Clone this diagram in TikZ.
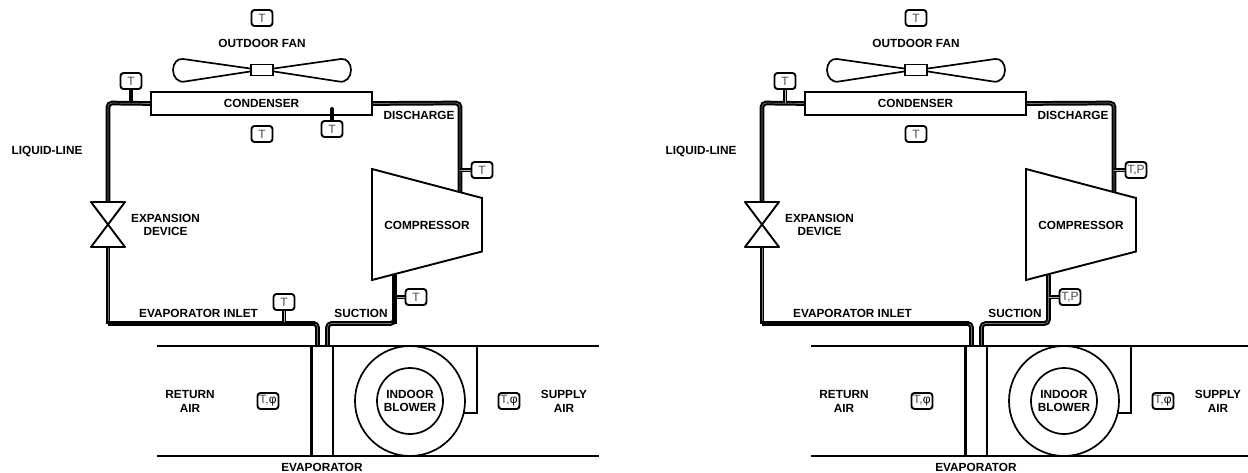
\documentclass[tikz,border=0pt]{standalone}
\usepackage{fontspec}
\usetikzlibrary{calc}
\setmainfont{Liberation Sans}
\newcommand{\acunit}[3]{%
 \begin{scope}[shift={(#1,0)},name prefix=#2-]
  \coordinate (nw) at (108,103);
  \coordinate (vt) at (108,202);
  \coordinate (vb) at (108,247);
  \coordinate (vl) at (91,202);
  \coordinate (vr) at (125,202);
  \coordinate (bl) at (91,247);
  \coordinate (br) at (125,247);
  \coordinate (sw) at (108,323.5);
  \coordinate (ie) at (317.5,323.5);
  \coordinate (id) at (317.5,346);
  \coordinate (sd) at (327.5,346);
  \coordinate (sc) at (327.5,323.5);
  \coordinate (se) at (394.5,323.5);
  \coordinate (cb) at (394.5,275);
  \coordinate (ne) at (460,103);
  \coordinate (ct) at (460,192);
  \coordinate (c1) at (372,169);
  \coordinate (c2) at (482,198);
  \coordinate (c3) at (482,251.5);
  \coordinate (c4) at (372,280);
  \node[minimum width=221pt,minimum height=23pt,inner sep=0pt] (cond) at (261.5,103.5) {};
  \draw[pipe] (cond.west) -- (nw) -- (vt);
  \draw[pipe] (vb) -- (sw);
  \draw[pipe] ($(ie)+(-4,0)$) -- (ie) -- (id);
  \draw[solidpipe] (sw) -- ($(ie)+(-3,0)$);
  \draw[pipe] (sd) -- (sc) -- (se) -- (cb);
  \draw[pipe] (cond.east) -- (ne) -- (ct);
  \draw[shape line,line join=round] (vl) -- (vr) -- (bl) -- (br) -- cycle;
  \node[shape line,fill=white,minimum width=221pt,minimum height=23pt,inner sep=0pt,lbl] at (261.5,103.5) {CONDENSER};
  \draw[shape line,fill=white] (c1) -- (c2) -- (c3) -- (c4) -- cycle;
  \node[lbl] (complbl) at (427,225) {COMPRESSOR};
  \node[shape line,fill=white,minimum width=22pt,minimum height=11pt,inner sep=0pt] (hub) at (262,70) {};
  \draw[line width=1.7pt,black] ($(hub.east)+(0,-1.5)$) -- (341,59) .. controls (347,58) and (351,64) .. (351,70) .. controls (351,77) and (346,83) .. (339,81.5) -- ($(hub.east)+(0,1.5)$);
  \draw[line width=1.7pt,black] ($(hub.west)+(0,-1.5)$) -- (183,59) .. controls (177,58) and (173,64) .. (173,70) .. controls (173,77) and (178,83) .. (185,81.5) -- ($(hub.west)+(0,1.5)$);
  \coordinate (dtl) at (157,346);
  \coordinate (dtr) at (599,346);
  \coordinate (dbl) at (157,456);
  \coordinate (dbr) at (599,456);
  \draw[duct] (dtl) -- (dtr);
  \draw[duct] (dbl) -- (dbr);
  \draw[draw=black,line width=2.4pt] (311.5,346) -- (311.5,456);
  \draw[duct] (333,346) -- (333,456);
  \node[duct,circle,minimum size=110pt,inner sep=0pt] (outer) at (410,401) {};
  \node[duct,circle,minimum size=66pt,inner sep=0pt,lbl] (blower) at (410,401) {INDOOR\\BLOWER};
  \draw[duct,line join=miter] (463.7,412.7) -- (476.7,412.7) -- (476.7,346);
  \node[lbl] (fanlbl) at (262,43) {OUTDOOR FAN};
  \node[lbl] (ll) at (47,152) {LIQUID-LINE};
  \node[lbl] (exp) at (165.5,225) {EXPANSION\\DEVICE};
  \node[lbl] (dis) at (419,115) {DISCHARGE};
  \node[lbl] (inl) at (198.5,313) {EVAPORATOR INLET};
  \node[lbl] (suc) at (361,313) {SUCTION};
  \node[lbl] (ret) at (190,401.5) {RETURN\\AIR};
  \node[lbl] (sup) at (564,401.5) {SUPPLY\\AIR};
  \node[lbl] (evp) at (322,467) {EVAPORATOR};
  \node[sensor] (s1) at (262,18) {T};
  \node[sensor] (s2) at (262,134) {T};
  \coordinate (j1) at (131,103);
  \node[sensor] (s3) at (131,81) {T};
  \coordinate (j2) at (460,170);
  \coordinate (j3) at (394.5,297);
  \node[sensor] (s4) at (482,170) {#3};
  \node[sensor] (s5) at (416,297) {#3};
  \draw[stem] (j2) -- (s4.west);
  \draw[stem] (j3) -- (s5.west);
  \node[sensor] (s6) at (268,401) {T,\textcolor{black}{φ}};
  \node[sensor] (s7) at (509,401) {T,\textcolor{black}{φ}};
 \end{scope}}
\begin{document}
\begin{tikzpicture}[x=1pt,y=-1pt,
  lbl/.style={font=\fontsize{11.8}{13.6}\selectfont\bfseries,text=black,align=center,inner sep=0pt},
  sensor/.style={draw=black,line width=1.9pt,rounded corners=3pt,fill=white,minimum width=21pt,minimum height=16pt,inner sep=0pt,font=\fontsize{12}{12}\selectfont,text=black!70},
  pipe/.style={line width=2pt,double=black!55,double distance=0.7pt,rounded corners=4pt},
  solidpipe/.style={line width=4.6pt,black},
  stem/.style={line width=1.4pt,double=black!30,double distance=0.9pt},
  solidstem/.style={line width=4pt,black},
  shape line/.style={draw=black,line width=1.9pt,line join=miter},
  duct/.style={draw=black,line width=1.7pt}]
\useasboundingbox (0,0) rectangle (1248,473);
\fill[white] (0,0) rectangle (1248,473);
\acunit{0}{L}{T}
\acunit{654}{R}{T,P}
% sensors present on the left unit only
\node[sensor] (Ls8) at (332,129) {T};
\draw[solidstem,line cap=round] (Ls8.north) -- (332,109);
\draw[solidstem] (L-s3.south) -- (L-j1);
\node[sensor] (Ls9) at (284,302) {T};
\draw[stem] (Ls9.south) -- (284,322);
\draw[solidpipe] (L-se) -- (L-cb);
% right-unit liquid-line stem
\draw[stem] (R-s3.south) -- (R-j1);
\end{tikzpicture}
\end{document}
